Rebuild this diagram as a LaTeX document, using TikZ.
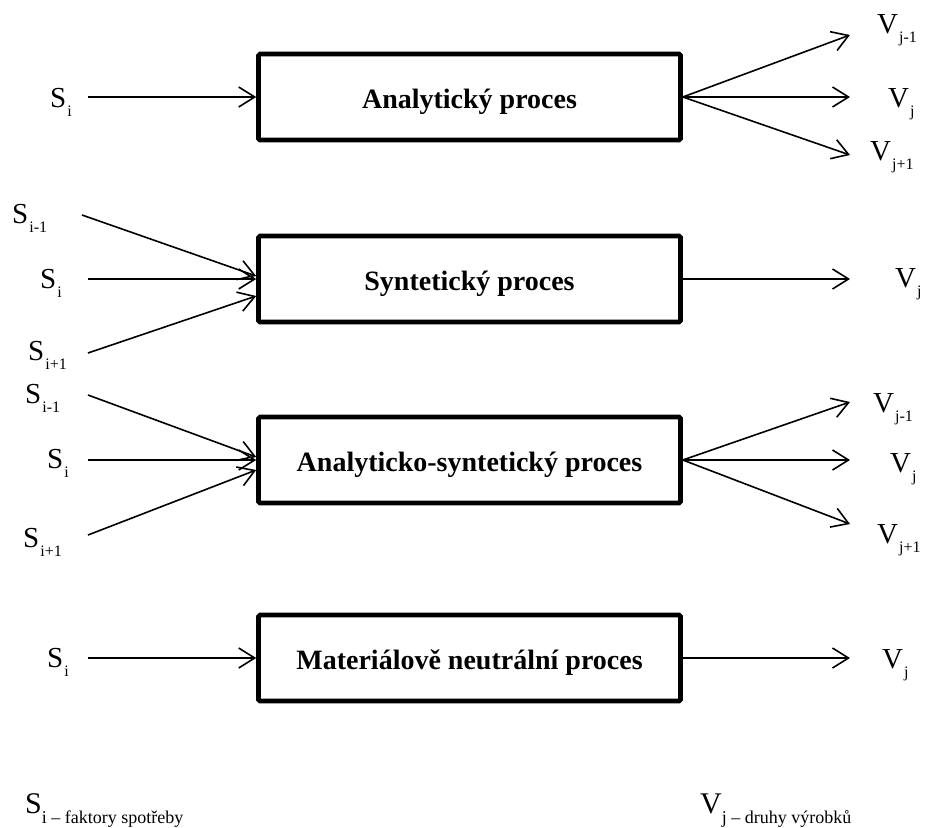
\documentclass[tikz,border=0pt]{standalone}
\usepackage{fontspec}
\setmainfont{Liberation Serif}
\usetikzlibrary{arrows.meta}

% label with a lowered, smaller index
\newcommand\idxlab[2]{#1\hspace{1pt}\raisebox{-9pt}{\fontsize{16}{16}\selectfont #2}}
\newcommand\legendlab[2]{{\fontsize{30}{30}\selectfont #1}\raisebox{-10pt}{\fontsize{18}{18}\selectfont #2}}

\tikzset{
  procbox/.style={draw, line width=4.6pt, rounded corners=1.5pt, minimum width=422pt,
    minimum height=86pt, inner sep=0pt, text height=22pt, text depth=0pt,
    font=\fontsize{28}{30}\selectfont\bfseries},
  lab/.style={anchor=base west, inner sep=0pt, font=\fontsize{29}{30}\selectfont},
  flow/.style={line width=1.6pt, -{Straight Barb[length=16pt,width=20pt]}}
}

\begin{document}
\begin{tikzpicture}[x=1pt,y=-1pt]
\useasboundingbox (0,0) rectangle (925,827);

% process boxes
\node[procbox] (b1) at (469.5,97) {Analytický proces};
\node[procbox] (b2) at (469.5,279) {Syntetický proces};
\node[procbox] (b3) at (469.5,460) {Analyticko-syntetický proces};
\node[procbox] (b4) at (469.5,658) {Materiálově neutrální proces};

% inputs of the analytic process
\node[lab] (s1) at (50,107) {\idxlab{S}{i}};
\coordinate (s1a) at (88,97);
\draw[flow] (s1a) -- (b1.west);

% outputs of the analytic process
\coordinate (v1a) at (850,35);
\coordinate (v1b) at (850,97);
\coordinate (v1c) at (850,155);
\draw[flow] (b1.east) -- (v1a);
\draw[flow] (b1.east) -- (v1b);
\draw[flow] (b1.east) -- (v1c);
\node[lab] (v1) at (877,33) {\idxlab{V}{j-1}};
\node[lab] (v2) at (888,107) {\idxlab{V}{j}};
\node[lab] (v3) at (870,160) {\idxlab{V}{j+1}};

% synthetic process
\node[lab] (s2) at (12,223) {\idxlab{S}{i-1}};
\node[lab] (s3) at (40,288) {\idxlab{S}{i}};
\node[lab] (s4) at (28,360) {\idxlab{S}{i+1}};
\coordinate (s2a) at (82,215);
\coordinate (s3a) at (88,279);
\coordinate (s4a) at (88,353);
\draw[flow] (s2a) -- ([yshift=3pt]b2.west);
\draw[flow] (s3a) -- (b2.west);
\draw[flow] (s4a) -- ([yshift=-17pt]b2.west);
\coordinate (v4a) at (850,279);
\draw[flow] (b2.east) -- (v4a);
\node[lab] (v4) at (895,287) {\idxlab{V}{j}};

% analytic-synthetic process
\node[lab] (s5) at (25,403) {\idxlab{S}{i-1}};
\node[lab] (s6) at (47,468) {\idxlab{S}{i}};
\node[lab] (s7) at (23,547) {\idxlab{S}{i+1}};
\coordinate (s5a) at (88,395);
\coordinate (s6a) at (88,460);
\coordinate (s7a) at (88,535);
\draw[flow] (s5a) -- ([yshift=3pt]b3.west);
\draw[flow] (s6a) -- (b3.west);
\draw[flow] (s7a) -- ([yshift=-10pt]b3.west);
\coordinate (v5a) at (850,402);
\coordinate (v6a) at (850,460);
\coordinate (v7a) at (850,524);
\draw[flow] (b3.east) -- (v5a);
\draw[flow] (b3.east) -- (v6a);
\draw[flow] (b3.east) -- (v7a);
\node[lab] (v5) at (873,412) {\idxlab{V}{j-1}};
\node[lab] (v6) at (890,472) {\idxlab{V}{j}};
\node[lab] (v7) at (877,543) {\idxlab{V}{j+1}};

% material-neutral process
\node[lab] (s8) at (47,667) {\idxlab{S}{i}};
\coordinate (s8a) at (88,658);
\draw[flow] (s8a) -- (b4.west);
\coordinate (v8a) at (850,658);
\draw[flow] (b4.east) -- (v8a);
\node[lab] (v8) at (882,668) {\idxlab{V}{j}};

% legend
\node[anchor=base west, inner sep=0pt] (leg1) at (25,813) {\legendlab{S}{i – faktory spotřeby}};
\node[anchor=base west, inner sep=0pt] (leg2) at (700,813) {\legendlab{V}{j – druhy výrobků}};
\end{tikzpicture}
\end{document}
